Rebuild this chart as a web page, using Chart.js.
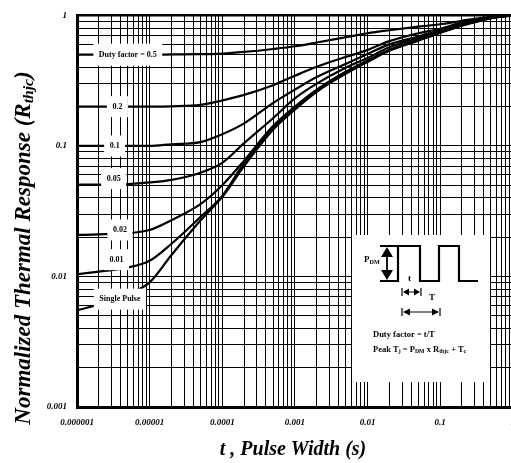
<!DOCTYPE html>
<html>
<head>
<meta charset="utf-8">
<title>Normalized Thermal Response</title>
<script src="https://cdn.jsdelivr.net/npm/chart.js"></script>
<style>
	html, body { margin: 0; padding: 0; background: #fff; overflow: hidden; }
	#wrap { width: 511px; height: 463px; overflow: hidden; }
</style>
</head>
<body>
<div id="wrap"><canvas id="thermal" width="525" height="463"></canvas></div>

<script>
	var pulseWidth = [1e-6, 2e-6, 5e-6, 1e-5, 2e-5, 5e-5, 1e-4, 2e-4, 5e-4, 1e-3, 2e-3, 5e-3, 1e-2, 2e-2, 5e-2, 0.1, 0.2, 0.5, 1];

	var duty05 = [0.5, 0.5, 0.5, 0.5, 0.502, 0.505, 0.51, 0.525, 0.553, 0.58, 0.62, 0.68, 0.73, 0.77, 0.82, 0.855, 0.91, 0.975, 1.0];
	var duty02 = [0.2, 0.2, 0.2, 0.2, 0.201, 0.206, 0.223, 0.246, 0.292, 0.345, 0.404, 0.48, 0.543, 0.635, 0.73, 0.79, 0.885, 0.965, 1.0];
	var duty01 = [0.1, 0.1, 0.1, 0.1, 0.103, 0.107, 0.123, 0.149, 0.213, 0.27, 0.337, 0.425, 0.507, 0.6, 0.69, 0.77, 0.87, 0.962, 1.0];
	var duty005 = [0.0505, 0.0505, 0.051, 0.0525, 0.055, 0.0624, 0.0742, 0.105, 0.163, 0.231, 0.3, 0.397, 0.472, 0.57, 0.67, 0.756, 0.855, 0.96, 1.0];
	var duty002 = [0.0208, 0.021, 0.0215, 0.0227, 0.027, 0.0358, 0.05, 0.0772, 0.142, 0.2, 0.27, 0.37, 0.452, 0.545, 0.65, 0.745, 0.845, 0.955, 1.0];
	var duty001 = [0.0104, 0.0109, 0.0117, 0.0132, 0.0178, 0.0285, 0.0414, 0.074, 0.137, 0.196, 0.265, 0.364, 0.447, 0.54, 0.645, 0.74, 0.84, 0.952, 1.0];
	var singlePulse = [0.0055, 0.0061, 0.0073, 0.009, 0.0146, 0.0268, 0.0407, 0.07, 0.133, 0.19, 0.26, 0.357, 0.44, 0.535, 0.64, 0.735, 0.835, 0.95, 1.0];

	// curve labels and where they sit (t, value)
	var curveLabels = ['Duty factor = 0.5', '0.2', '0.1', '0.05', '0.02', '0.01', 'Single Pulse'];
	var labelT = [5e-6, 3.6e-6, 3.3e-6, 3.2e-6, 3.9e-6, 3.5e-6, 3.9e-6];
	var labelR = [0.5, 0.2, 0.1, 0.0562, 0.0227, 0.01345, 0.0067];

	// tick labels
	var xTickValues = [1e-6, 1e-5, 1e-4, 1e-3, 1e-2, 1e-1, 1];
	var xTickLabels = ['0.000001', '0.00001', '0.0001', '0.001', '0.01', '0.1', '1'];
	var yTickValues = [1e-3, 1e-2, 1e-1, 1];
	var yTickLabels = ['0.001', '0.01', '0.1', '1'];

	// grid lines at 1..9 of every decade
	function decadeGrid(fromExp, toExp) {
		var list = [];
		for (var e = fromExp; e < toExp; e++) {
			for (var m = 1; m <= 9; m++) {
				list.push(parseFloat(m + 'e' + e));
			}
		}
		list.push(parseFloat('1e' + toExp));
		return list;
	}
	var gridX = decadeGrid(-6, 0);
	var gridY = decadeGrid(-3, 0);

	var serif = "'Liberation Serif', 'Times New Roman', serif";

	function makeSet(label, values) {
		return {
			label: label,
			data: pulseWidth.map(function (t, i) { return { x: t, y: values[i] }; }),
			borderColor: '#000',
			backgroundColor: '#000',
			borderWidth: 2.2,
			pointRadius: 0,
			fill: false,
			cubicInterpolationMode: 'monotone'
		};
	}

	// text with a run of subscripts: parts = [[text, isSub], ...]
	function drawRich(ctx, parts, x, y, size, style) {
		var cx = x;
		parts.forEach(function (p) {
			var s = p[1] ? size * 0.68 : size;
			ctx.font = style + ' ' + s + 'px ' + serif;
			ctx.fillText(p[0], cx, p[1] ? y + size * 0.22 : y);
			cx += ctx.measureText(p[0]).width;
		});
		return cx - x;
	}
	function richWidth(ctx, parts, size, style) {
		var w = 0;
		parts.forEach(function (p) {
			ctx.font = style + ' ' + (p[1] ? size * 0.68 : size) + 'px ' + serif;
			w += ctx.measureText(p[0]).width;
		});
		return w;
	}

	function arrowHead(ctx, x, y, dx, dy, len, half) {
		// tip at (x,y), pointing along (dx,dy)
		ctx.beginPath();
		ctx.moveTo(x, y);
		ctx.lineTo(x - dx * len - dy * half, y - dy * len - dx * half);
		ctx.lineTo(x - dx * len + dy * half, y - dy * len + dx * half);
		ctx.closePath();
		ctx.fill();
	}

	var overlay = {
		id: 'overlay',
		afterDatasetsDraw: function (chart) {
			var ctx = chart.ctx;
			var xs = chart.scales.x, ys = chart.scales.y;
			ctx.save();
			ctx.textBaseline = 'middle';
			ctx.textAlign = 'center';
			// curve label boxes
			for (var i = 0; i < curveLabels.length; i++) {
				var px = xs.getPixelForValue(labelT[i]);
				var py = ys.getPixelForValue(labelR[i]);
				ctx.font = 'bold 8px ' + serif;
				var w = ctx.measureText(curveLabels[i]).width + 11;
				var h = i === 0 ? 22 : 21;
				ctx.fillStyle = '#fff';
				ctx.fillRect(px - w / 2, py - h / 2, w, h);
				ctx.fillStyle = '#000';
				ctx.fillText(curveLabels[i], px, py);
			}

			// inset with the pulse diagram
			var bx = 352, by = 235;
			ctx.fillStyle = '#fff';
			ctx.fillRect(bx, by, 138, 147);
			ctx.strokeStyle = '#000';
			ctx.fillStyle = '#000';
			ctx.lineWidth = 2.2;
			ctx.beginPath();
			ctx.moveTo(bx + 28, by + 46);
			ctx.lineTo(bx + 46, by + 46);
			ctx.lineTo(bx + 46, by + 11);
			ctx.lineTo(bx + 68, by + 11);
			ctx.lineTo(bx + 68, by + 46);
			ctx.lineTo(bx + 87, by + 46);
			ctx.lineTo(bx + 87, by + 11);
			ctx.lineTo(bx + 107, by + 11);
			ctx.lineTo(bx + 107, by + 46);
			ctx.lineTo(bx + 126, by + 46);
			ctx.moveTo(bx + 28, by + 11);
			ctx.lineTo(bx + 46, by + 11);
			ctx.stroke();
			// P_DM arrow
			ctx.lineWidth = 1.8;
			ctx.beginPath();
			ctx.moveTo(bx + 35, by + 18);
			ctx.lineTo(bx + 35, by + 39);
			ctx.stroke();
			arrowHead(ctx, bx + 35, by + 12, 0, -1, 10, 6);
			arrowHead(ctx, bx + 35, by + 45, 0, 1, 10, 6);
			// t arrow
			ctx.lineWidth = 1.2;
			ctx.beginPath();
			ctx.moveTo(bx + 50, by + 53); ctx.lineTo(bx + 50, by + 61);
			ctx.moveTo(bx + 69, by + 53); ctx.lineTo(bx + 69, by + 61);
			ctx.moveTo(bx + 55, by + 57); ctx.lineTo(bx + 64, by + 57);
			ctx.stroke();
			arrowHead(ctx, bx + 51, by + 57, -1, 0, 6, 3.5);
			arrowHead(ctx, bx + 68, by + 57, 1, 0, 6, 3.5);
			// T arrow
			ctx.beginPath();
			ctx.moveTo(bx + 50, by + 73); ctx.lineTo(bx + 50, by + 81);
			ctx.moveTo(bx + 88, by + 73); ctx.lineTo(bx + 88, by + 81);
			ctx.moveTo(bx + 55, by + 77); ctx.lineTo(bx + 83, by + 77);
			ctx.stroke();
			arrowHead(ctx, bx + 51, by + 77, -1, 0, 7, 3.5);
			arrowHead(ctx, bx + 87, by + 77, 1, 0, 7, 3.5);

			ctx.textAlign = 'left';
			ctx.font = 'bold 9px ' + serif;
			ctx.fillText('t', bx + 56, by + 44);
			ctx.fillText('T', bx + 77, by + 63);
			drawRich(ctx, [['P', false], ['DM', true]], bx + 12, by + 25, 9, 'bold');
			ctx.font = 'bold 8.5px ' + serif;
			ctx.fillText('Duty factor = t/T', bx + 21, by + 100);
			drawRich(ctx, [['Peak T', false], ['j', true], [' = P', false], ['DM', true], [' x R', false], ['thjc', true], [' + T', false], ['c', true]],
				bx + 21, by + 115, 8.5, 'bold');
			ctx.restore();
		},
		afterDraw: function (chart) {
			var ctx = chart.ctx;
			ctx.save();
			ctx.fillStyle = '#000';
			ctx.textBaseline = 'middle';
			// x title
			ctx.textAlign = 'center';
			ctx.font = 'italic bold 20px ' + serif;
			ctx.fillText('t , Pulse Width (s)', 293, 450);
			// y title with subscript
			var parts = [['Normalized Thermal Response (R', false], ['thjc', true], [')', false]];
			var w = richWidth(ctx, parts, 23, 'italic bold');
			ctx.translate(24, 248);
			ctx.rotate(-Math.PI / 2);
			ctx.textAlign = 'left';
			drawRich(ctx, parts, -w / 2, 0, 23, 'italic bold');
			ctx.restore();
		}
	};

	var tickFont = { family: serif, size: 9, style: 'italic', weight: 'bold' };

	var ctx = document.getElementById('thermal').getContext('2d');
	new Chart(ctx, {
		type: 'line',
		data: {
			datasets: [
				makeSet('0.5', duty05),
				makeSet('0.2', duty02),
				makeSet('0.1', duty01),
				makeSet('0.05', duty005),
				makeSet('0.02', duty002),
				makeSet('0.01', duty001),
				makeSet('Single Pulse', singlePulse)
			]
		},
		options: {
			responsive: false,
			animation: false,
			layout: { padding: { top: 11, right: 10, left: 0, bottom: 0 } },
			scales: {
				x: {
					type: 'logarithmic',
					min: 1e-6,
					max: 1,
					afterBuildTicks: function (scale) {
						scale.ticks = gridX.map(function (v) { return { value: v }; });
					},
					afterFit: function (scale) { scale.height = 56; },
					grid: { color: '#000', lineWidth: 1, drawTicks: false },
					border: { color: '#000', width: 3 },
					ticks: {
						autoSkip: false,
						maxRotation: 0,
						padding: 10,
						color: '#000',
						font: tickFont,
						callback: function (value) {
							var i = xTickValues.indexOf(value);
							return i >= 0 ? xTickLabels[i] : '';
						}
					}
				},
				y: {
					type: 'logarithmic',
					min: 1e-3,
					max: 1,
					afterBuildTicks: function (scale) {
						scale.ticks = gridY.map(function (v) { return { value: v }; });
					},
					afterFit: function (scale) { scale.width = 77; },
					grid: {
						color: '#000',
						drawTicks: false,
						lineWidth: function (c) { return c.tick && c.tick.value === 1 ? 2.5 : 1; }
					},
					border: { color: '#000', width: 3 },
					ticks: {
						autoSkip: false,
						padding: 10,
						color: '#000',
						font: tickFont,
						callback: function (value) {
							var i = yTickValues.indexOf(value);
							return i >= 0 ? yTickLabels[i] : '';
						}
					}
				}
			},
			plugins: {
				legend: { display: false },
				tooltip: { enabled: false }
			}
		},
		plugins: [overlay]
	});
</script>
</body>
</html>
